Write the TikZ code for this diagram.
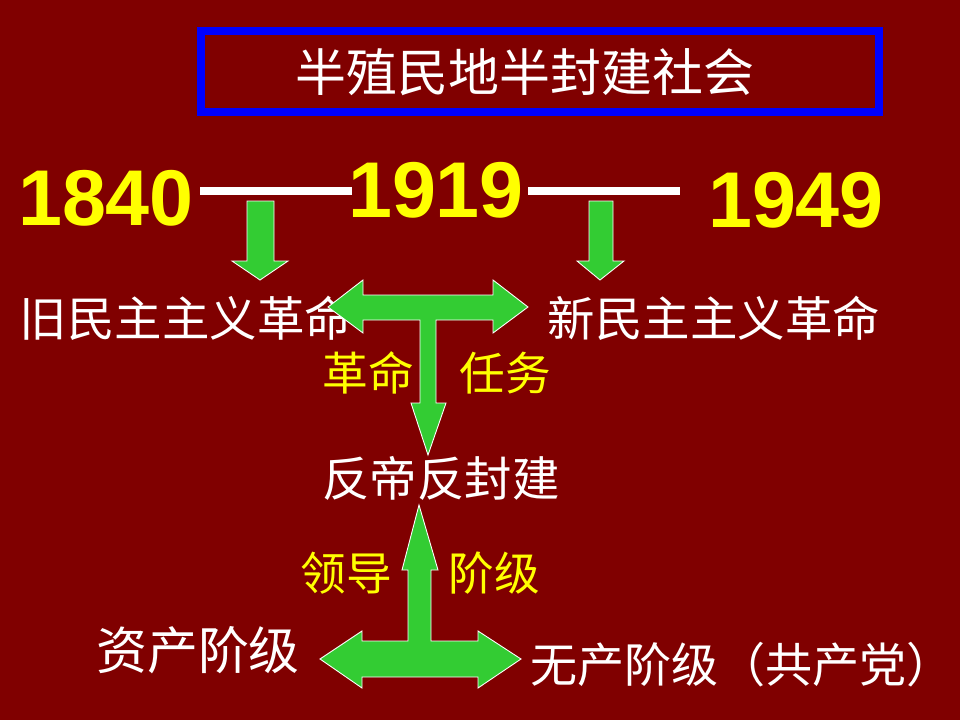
\documentclass[tikz,border=0pt]{standalone}
\usepackage{fontspec}
\setmainfont{Liberation Sans}
\newfontfamily\cjk{Noto Sans CJK SC}
\usetikzlibrary{positioning}
\definecolor{slidered}{HTML}{800000}
\definecolor{framblue}{HTML}{0000FF}
\definecolor{arrgreen}{HTML}{33CC33}
\definecolor{yearyellow}{HTML}{FFFF00}
\tikzset{
  every picture/.style={line cap=butt, line join=miter},
  % years on the time line
  year/.style={yearyellow, font=\fontsize{45}{50}\selectfont\bfseries, inner sep=0pt},
  % white labels (periods, tasks, classes)
  stage/.style={white, font=\cjk\fontsize{27}{32}\selectfont, inner sep=0pt},
  % yellow side notes on the arrows
  note/.style={yearyellow, font=\cjk\fontsize{26}{30}\selectfont, inner sep=0pt},
  % green block arrows with a thin white rim
  blockarr/.style={fill=arrgreen, draw=white, line width=0.5pt},
  timeline/.style={white, line width=4.5pt},
}

\begin{document}
\begin{tikzpicture}[x=0.02cm, y=-0.02cm]
  % background, pixel frame of the slide
  \fill[slidered] (0,0) rectangle (960,720);
  \useasboundingbox (0,0) rectangle (960,720);

  % ---- title
  \draw[framblue, line width=4.5pt] (201,31) rectangle (879,112);
  \node[white, font=\cjk\fontsize{29}{34}\selectfont, inner sep=0pt] (title) at (525,72) {半殖民地半封建社会};

  % ---- time line
  \node[year] (y1840) at (106,198) {1840};
  \node[year] (y1919) at (436,190) {1919};
  \node[year] (y1949) at (796,200) {1949};
  \coordinate (tl1) at (200,191);
  \coordinate (tl2) at (352,191);
  \coordinate (tl3) at (528,191);
  \coordinate (tl4) at (680,191);
  \draw[timeline] (tl1) -- (tl2);
  \draw[timeline] (tl3) -- (tl4);

  % down arrows to the two revolutions
  \draw[blockarr] (247,201) -- (274,201) -- (274,261) -- (288,261) -- (260,280)
    -- (232,261) -- (247,261) -- cycle;
  \draw[blockarr] (589,201) -- (613,201) -- (613,261) -- (624,261) -- (600,280)
    -- (577,261) -- (589,261) -- cycle;

  \node[stage] (oldrev) at (186,318) {旧民主主义革命};
  \node[stage] (newrev) at (714,318) {新民主主义革命};

  % ---- T arrow: both revolutions -> task
  \draw[blockarr] (328,307) -- (363,280) -- (363,295) -- (493,295) -- (493,280)
    -- (528,307) -- (493,333) -- (493,320) -- (436,320) -- (436,403) -- (446,403)
    -- (428,455) -- (411,403) -- (420,403) -- (420,320) -- (363,320) -- (363,333) -- cycle;
  \node[note] (rev) at (368,373) {革命};
  \node[note] (task) at (505,373) {任务};

  \node[stage] (task0) at (441,478) {反帝反封建};

  % ---- leading class arrow
  \draw[blockarr] (320,659) -- (362,631) -- (362,641) -- (408,641) -- (408,570) -- (402,570)
    -- (419,505) -- (438,570) -- (431,570) -- (431,641) -- (478,641) -- (478,631)
    -- (521,659) -- (478,688) -- (478,677) -- (362,677) -- (362,688) -- cycle;
  \node[note] (lead) at (346,573) {领导};
  \node[note] (cls) at (494,573) {阶级};

  \node[stage, font=\cjk\fontsize{29}{34}\selectfont] (bourg) at (198,650) {资产阶级};
  \node[stage, font=\cjk\fontsize{26.8}{31}\selectfont] (prol) at (742,665) {无产阶级（共产党）};
\end{tikzpicture}
\end{document}
